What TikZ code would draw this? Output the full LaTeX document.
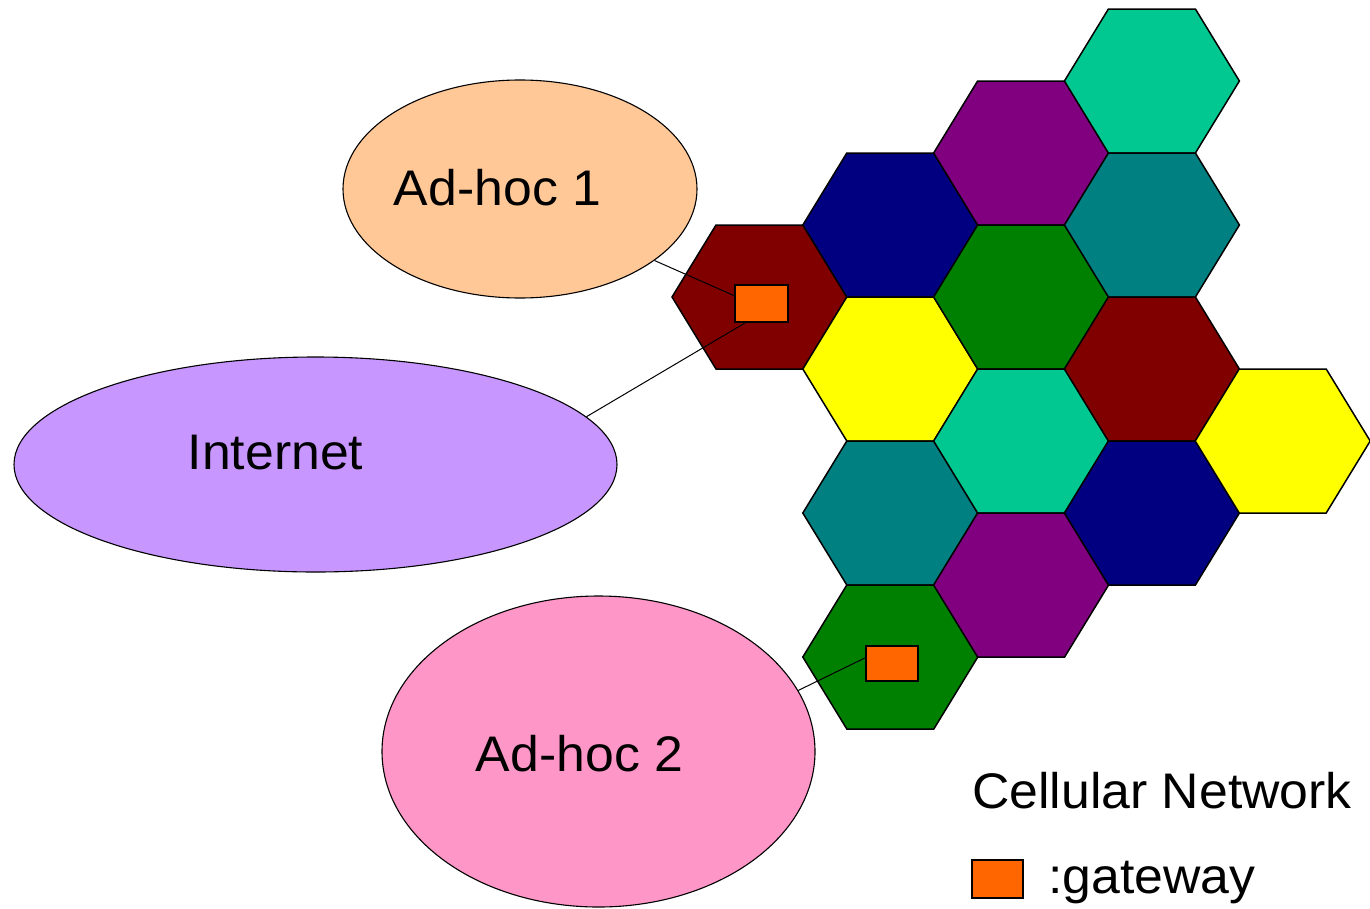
\documentclass[tikz,border=0pt]{standalone}
\usepackage{fontspec}
\setmainfont{Liberation Sans}[FakeStretch=1.035]
\usetikzlibrary{shapes.geometric}

\definecolor{cellmaroon}{HTML}{800000}
\definecolor{cellnavy}{HTML}{000080}
\definecolor{cellyellow}{HTML}{FFFF00}
\definecolor{cellteal}{HTML}{008080}
\definecolor{cellgreen}{HTML}{008000}
\definecolor{cellpurple}{HTML}{800080}
\definecolor{cellaqua}{HTML}{00C890}
\definecolor{gwfill}{HTML}{FF6600}
\definecolor{peach}{HTML}{FFC896}
\definecolor{lavender}{HTML}{C896FF}
\definecolor{pinkish}{HTML}{FF96C8}

% one hexagonal cell: centre x, centre y, fill colour
\newcommand\hexcell[3]{%
  \filldraw[cell,fill=#3]
    ({#1+87.5},{#2}) -- ({#1+43.5},{#2+72}) -- ({#1-43.5},{#2+72}) --
    ({#1-87.5},{#2}) -- ({#1-43.5},{#2-72}) -- ({#1+43.5},{#2-72}) -- cycle;}

\begin{document}
\begin{tikzpicture}[x=1pt,y=-1pt,
  cell/.style={draw=black,line width=1.5pt,line join=miter},
  cloud/.style={ellipse,draw=black,line width=1.1pt,inner sep=0pt},
  gw/.style={rectangle,draw=black,line width=1.6pt,fill=gwfill,inner sep=0pt},
  link/.style={draw=black,line width=1pt},
  lbl/.style={inner sep=0pt,anchor=base,font=\fontsize{50}{50}\selectfont}]

\useasboundingbox (0,0) rectangle (1370,908);

% cellular network
\hexcell{759.5}{297}{cellmaroon}
\hexcell{890.3}{225}{cellnavy}
\hexcell{890.3}{369}{cellyellow}
\hexcell{890.3}{513}{cellteal}
\hexcell{890.3}{657}{cellgreen}
\hexcell{1021.1}{153}{cellpurple}
\hexcell{1021.1}{297}{cellgreen}
\hexcell{1021.1}{441}{cellaqua}
\hexcell{1021.1}{585}{cellpurple}
\hexcell{1151.9}{81}{cellaqua}
\hexcell{1151.9}{225}{cellteal}
\hexcell{1151.9}{369}{cellmaroon}
\hexcell{1151.9}{513}{cellnavy}
\hexcell{1282.7}{441}{cellyellow}

% networks
\node[cloud,fill=peach,minimum width=354pt,minimum height=218pt] (adhoc1) at (520,189) {};
\node[cloud,fill=lavender,minimum width=603pt,minimum height=215pt] (inet) at (315.5,464.5) {};
\node[cloud,fill=pinkish,minimum width=433pt,minimum height=311pt] (adhoc2) at (598.5,751.5) {};

\node[lbl] (adhoc1t) at (497.5,205) {Ad-hoc 1};
\node[lbl] (inett) at (275.5,469) {Internet};
\node[lbl] (adhoc2t) at (579.5,771) {Ad-hoc 2};

% gateways
\node[gw,minimum width=53pt,minimum height=37pt] (gw1) at (761.5,303.5) {};
\node[gw,minimum width=52pt,minimum height=35pt] (gw2) at (892,663.5) {};

% links
\draw[link] (adhoc1.-28) -- (gw1.164);
\draw[link] (inet.10) -- (gw1.230);
\draw[link] (adhoc2.17) -- (gw2.168);

% legend
\node[lbl,anchor=base west] (legtitle) at (972,808) {Cellular Network};
\node[gw,minimum width=51pt,minimum height=38pt] (leggw) at (997.5,879) {};
\node[lbl,anchor=base west] (leggwt) at (1048,893) {:gateway};
\end{tikzpicture}
\end{document}
